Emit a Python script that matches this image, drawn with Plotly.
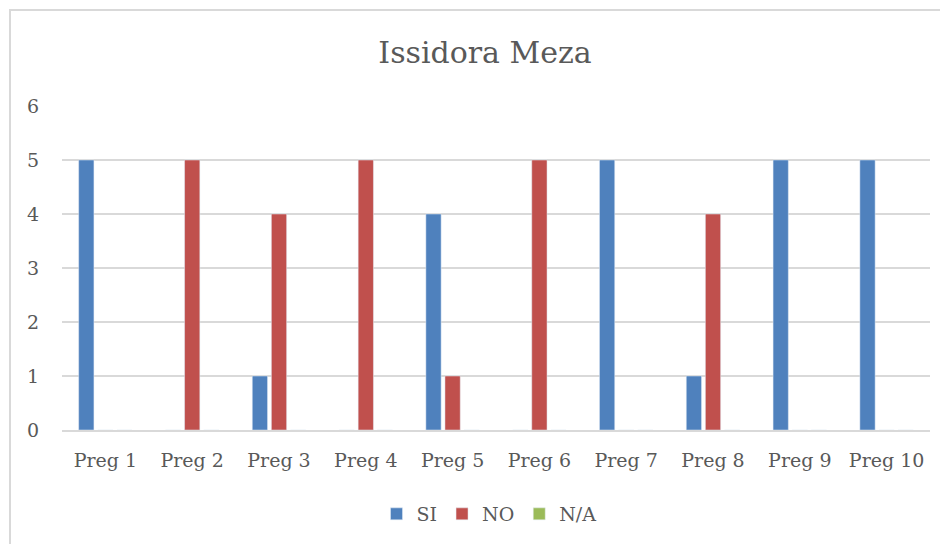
import plotly.graph_objects as go

categories = ["Preg 1", "Preg 2", "Preg 3", "Preg 4", "Preg 5", "Preg 6", "Preg 7", "Preg 8", "Preg 9", "Preg 10"]
si_values = [5, 0, 1, 0, 4, 0, 5, 1, 5, 5]
no_values = [0, 5, 4, 5, 1, 5, 0, 4, 0, 0]
na_values = [0, 0, 0, 0, 0, 0, 0, 0, 0, 0]
y_ticks = [0, 1, 2, 3, 4, 5, 6]

FONT = "'DejaVu Serif', serif"
TXT = "#595959"
OFF = 8  # page body margin

fig = go.Figure()
fig.add_bar(x=categories, y=si_values, name="SI", marker_color="#4f81bd")
fig.add_bar(x=categories, y=no_values, name="NO", marker_color="#c0504d")
fig.add_bar(x=categories, y=na_values, name="N/A", marker_color="#9bbb59")

L, R, T, B = 62 - OFF, 930 - OFF, 106 - OFF, 430 - OFF
W, H = 948, 544
PW, PH = R - L, B - T

fig.update_layout(
    width=W, height=H,
    margin=dict(l=L, r=W - R, t=T, b=H - B),
    paper_bgcolor="white", plot_bgcolor="white",
    barmode="group", bargap=0.34, bargroupgap=0.2,
    font=dict(family=FONT, color=TXT, size=19),
    title=dict(text="Issidora Meza", x=(485 - OFF) / W, xanchor="center", y=1 - (52 - OFF) / H, yanchor="middle",
               font=dict(family=FONT, size=30, color=TXT)),
    legend=dict(orientation="h", x=(489 - OFF - L) / PW, xanchor="center", y=(B - (514 - OFF)) / PH, yanchor="middle",
                font=dict(family=FONT, size=19, color=TXT), itemwidth=30, traceorder="normal"),
    showlegend=True,
)
fig.update_xaxes(showline=True, linecolor="#d9d9d9", linewidth=2, ticks="", showgrid=False,
                 ticklabelstandoff=12, tickfont=dict(family=FONT, size=19, color=TXT))
fig.update_yaxes(range=[0, 6], tickvals=y_ticks, showgrid=True, gridcolor="#d9d9d9", gridwidth=1.5,
                 zeroline=False, showline=False, ticks="", ticklabelstandoff=22,
                 tickfont=dict(family=FONT, size=19, color=TXT))

fig.add_shape(type="rect", xref="paper", yref="paper",
              x0=(10 - OFF - L) / PW, x1=(956 - OFF - L) / PW,
              y0=(B - (552 - OFF)) / PH, y1=(B - (10 - OFF)) / PH,
              line=dict(color="#d9d9d9", width=2), fillcolor="rgba(0,0,0,0)", layer="below")

fig.write_html("out.html")
